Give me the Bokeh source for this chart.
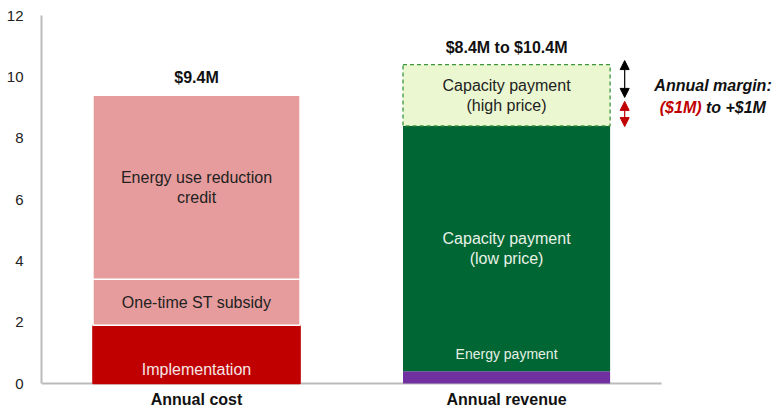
from bokeh.plotting import figure
from bokeh.models import (ColumnDataSource, FixedTicker, Arrow, NormalHead, Range1d)
from bokeh.core.properties import value
from bokeh.embed import file_html
from bokeh.resources import INLINE

# ---- data ----
categories = ["Annual cost", "Annual revenue"]
cost_segments = ["Implementation", "One-time ST subsidy", "Energy use reduction\ncredit"]
cost_values = [1.9, 1.5, 6.0]
revenue_segments = ["Energy payment", "Capacity payment\n(low price)", "Capacity payment\n(high price)"]
revenue_values = [0.4, 8.0, 2.0]
total_labels = ["$9.4M", "$8.4M to $10.4M"]
margin_title = "Annual margin:"
margin_low = "($1M)"
margin_high = "to +$1M"
y_ticks = [0, 2, 4, 6, 8, 10, 12]

FONT = "Liberation Sans"

p = figure(width=773, height=411, output_backend="svg", toolbar_location=None,
           x_range=Range1d(0.5, 2.861), y_range=Range1d(-0.91, 12),
           x_axis_location=None,
           min_border_left=41, min_border_right=0, min_border_top=15, min_border_bottom=0)
p.outline_line_color = None
p.xgrid.grid_line_color = None
p.ygrid.grid_line_color = None
p.background_fill_color = "white"
p.border_fill_color = "white"

def stack(vals):
    bottoms, tops, acc = [], [], 0.0
    for v in vals:
        bottoms.append(acc)
        acc += v
        tops.append(acc)
    return bottoms, tops

W = 0.668
cx, rx = 1, 2

# baseline (category axis line)
p.segment(x0=[0.5], y0=[0], x1=[2.5], y1=[0], line_color="#BBBBBB", line_width=2)

# cost bar
cb, ct = stack(cost_values)
cost_fill = ["#C00000", "#E69C9C", "#E69C9C"]
cost_line = ["#C00000", "white", "white"]
p.vbar(x=[cx] * 3, width=W, bottom=cb, top=ct, fill_color=cost_fill, line_color=cost_line, line_width=1.5)

# revenue bar
rb, rt = stack(revenue_values)
p.vbar(x=[rx] * 2, width=W, bottom=rb[:2], top=rt[:2], fill_color=["#7030A0", "#006633"],
       line_color=None)
p.vbar(x=[rx], width=W, bottom=rb[2:], top=rt[2:], fill_color="#EBF7D0",
       line_color="#3C963C", line_width=1.3, line_dash="4 3")

# segment labels
cost_src = ColumnDataSource(dict(
    x=[cx] * 3, y=[(b + t) / 2 for b, t in zip(cb, ct)], text=cost_segments,
    color=["#F6E6E6", "#222222", "#222222"], yoff=[15, 0, 0]))
p.text(x="x", y="y", text="text", source=cost_src, text_color="color", y_offset="yoff",
       text_align="center", text_baseline="middle", text_font=value(FONT),
       text_font_size="16px", text_line_height=1.15)

rev_src = ColumnDataSource(dict(
    x=[rx] * 3, y=[(b + t) / 2 for b, t in zip(rb, rt)], text=revenue_segments,
    color=["#E6F0E6", "#E8F2E8", "#222222"], yoff=[-23, 0, 0], size=["14px", "16px", "16px"]))
p.text(x="x", y="y", text="text", source=rev_src, text_color="color", y_offset="yoff",
       text_align="center", text_baseline="middle", text_font=value(FONT),
       text_font_size="size", text_line_height=1.15)

# totals
p.text(x=[cx, rx], y=[ct[-1], rt[-1]], text=total_labels, y_offset=-9,
       text_align="center", text_baseline="bottom", text_font=value(FONT),
       text_font_size="16px", text_font_style="bold", text_color="#111111")

# category labels
p.text(x=[cx, rx], y=[0, 0], text=categories, y_offset=16,
       text_align="center", text_baseline="middle", text_font=value(FONT),
       text_font_size="16px", text_font_style="bold", text_color="#111111")

# arrows
ax = 2.381
hb = dict(size=9, fill_color="black", line_color="black")
hr = dict(size=9, fill_color="#C00000", line_color="#C00000")
p.add_layout(Arrow(x_start=ax, y_start=rt[-1] - 1.07, x_end=ax, y_end=rt[-1] + 0.13,
                   line_color="black", line_width=1.2,
                   start=NormalHead(**hb), end=NormalHead(**hb)))
p.add_layout(Arrow(x_start=ax, y_start=rt[1] - 0.02, x_end=ax, y_end=rt[-1] - 1.2,
                   line_color="#C00000", line_width=1.2,
                   start=NormalHead(**hr), end=NormalHead(**hr)))

# margin annotation
p.text(x=[2.666], y=[9.72], text=[margin_title], text_align="center", text_baseline="middle",
       text_font=value(FONT), text_font_size="16px", text_font_style="bold italic",
       text_color="#111111")
p.text(x=[2.629], y=[9.0], text=[margin_low], text_align="right", text_baseline="middle",
       text_font=value(FONT), text_font_size="16px", text_font_style="bold italic",
       text_color="#C00000")
p.text(x=[2.643], y=[9.0], text=[margin_high], text_align="left", text_baseline="middle",
       text_font=value(FONT), text_font_size="16px", text_font_style="bold italic",
       text_color="#111111")

# y axis
p.yaxis.ticker = FixedTicker(ticks=y_ticks)
p.yaxis.bounds = (0, 12)
p.yaxis.axis_line_color = "#BBBBBB"
p.yaxis.axis_line_width = 2
p.yaxis.major_tick_line_color = None
p.yaxis.minor_tick_line_color = None
p.yaxis.major_label_standoff = 12
p.yaxis.major_label_text_font = FONT
p.yaxis.major_label_text_font_size = "15px"
p.yaxis.major_label_text_color = "#222222"

open("out.html", "w").write(file_html(p, INLINE))
